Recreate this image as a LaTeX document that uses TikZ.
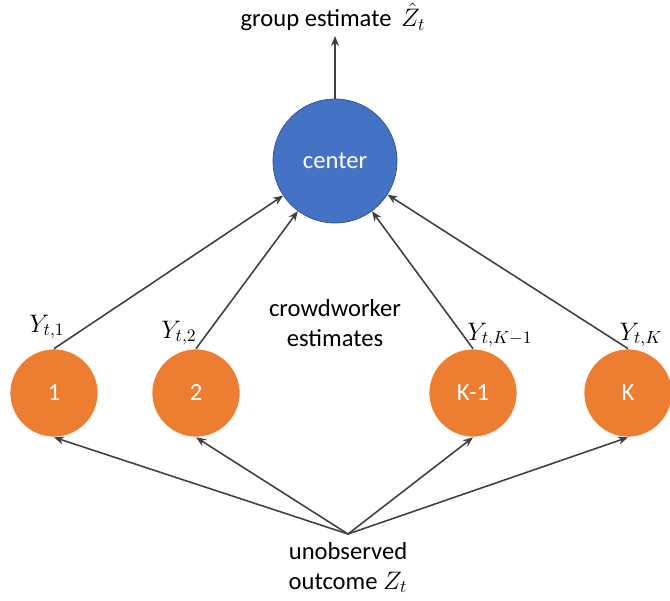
\documentclass[tikz,border=0pt]{standalone}
\usepackage{fontspec}
\setmainfont{Carlito}
\usetikzlibrary{arrows.meta}
\definecolor{ctrblue}{HTML}{4472C4}
\definecolor{ctredge}{HTML}{2F528F}
\definecolor{wkorange}{HTML}{ED7D31}
\definecolor{linegray}{HTML}{404040}
\tikzset{
  ctrnode/.style={circle, fill=ctrblue, draw=ctredge, thin, minimum size=2.48cm, text=white, inner sep=0pt},
  wknode/.style={circle, fill=wkorange, draw=white, thin, minimum size=1.76cm, text=white, inner sep=0pt},
  conn/.style={draw=linegray, line width=0.9pt, -{Stealth[length=2mm, width=1.6mm]}},
}
\begin{document}
\begin{tikzpicture}[font=\fontsize{14}{17}\selectfont]
    \useasboundingbox (0,0) rectangle (13.4,-12);
    \pgfmathsetmacro{\wky}{-7.86}
    \node[ctrnode] (ctr) at (6.70,-3.22) {center};
    \node (grp) at (6.66,-0.34) {group estimate\, $\hat{Z}_t$};
    \coordinate (top) at (6.70,-0.72);
    \node[wknode] (w1) at (1.08,\wky) {1};
    \node[wknode] (w2) at (3.92,\wky) {2};
    \node[wknode] (wk1) at (9.46,\wky) {K-1};
    \node[wknode] (wk) at (12.56,\wky) {K};
    \node[align=center] (crowd) at (6.70,-6.46) {crowdworker\\estimates};
    \node (y1) at (0.94,-6.54) {$Y_{t,1}$};
    \node (y2) at (3.58,-6.66) {$Y_{t,2}$};
    \node (yk1) at (10.0,-6.70) {$Y_{t,K-1}$};
    \node (yk) at (12.82,-6.70) {$Y_{t,K}$};
    \coordinate (z) at (6.96,-10.68);
    \node[align=center, anchor=north] (out) at (6.96,-10.72) {unobserved\\outcome $Z_t$};
    \draw[conn] (ctr) -- (top);
    \foreach \w in {w1,w2,wk1,wk} {
      \draw[conn] (\w.north) -- (ctr);
      \draw[conn] (z) -- (\w.south);
    }
\end{tikzpicture}
\end{document}
